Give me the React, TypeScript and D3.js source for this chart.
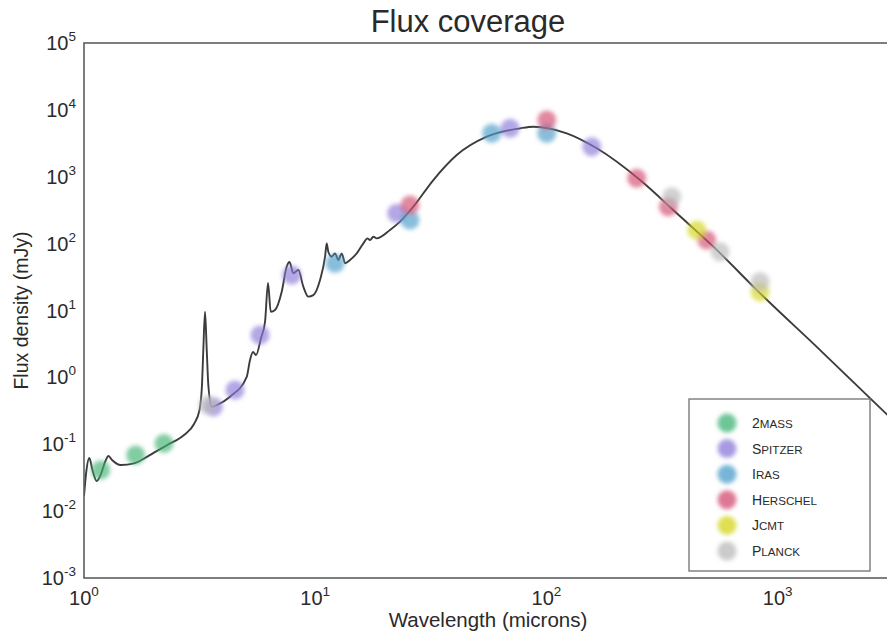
import React from 'react';
import * as d3 from 'd3';

// Model spectral energy distribution (wavelength in microns, flux density in mJy)
const modelWavelength = [
  1.0, 1.025, 1.054, 1.088, 1.135, 1.184, 1.233, 1.276, 1.322, 1.441, 1.646, 1.878,
  2.042, 2.293, 2.707, 2.991, 3.159, 3.238, 3.281, 3.337, 3.395, 3.449, 3.567, 3.75,
  4.281, 5.055, 5.224, 5.383, 5.546, 5.829, 6.066, 6.25, 6.421, 6.701, 7.163, 7.527,
  7.74, 8.04, 8.452, 8.882, 9.337, 9.813, 10.49, 11.03, 11.21, 11.39, 11.79, 12.18,
  12.59, 13.02, 13.46, 14.14, 15.12, 16.15, 16.81, 17.26, 17.84, 18.45, 21.06, 23.27,
  26.57, 32.42, 40.93, 55.19, 76.9, 87.8, 122.4, 165.1, 254.1, 366.1, 527.2, 839.3,
  1526, 3064,
];
const modelFlux = [
  0.0168, 0.0412, 0.0622, 0.0412, 0.0282, 0.0359, 0.0543, 0.0667, 0.0582, 0.049, 0.0519, 0.0652,
  0.0774, 0.0975, 0.1375, 0.201, 0.325, 0.769, 2.56, 9.59, 2.56, 0.769, 0.364, 0.386,
  0.514, 1.02, 1.82, 2.39, 2.16, 3.88, 6.73, 25.8, 9.59, 10.2, 19.1, 45.2,
  53.1, 36.0, 40.3, 22.7, 16.1, 17.0, 28.6, 63.7, 101, 75.7, 63.7, 71.6,
  56.9, 71.6, 50.8, 56.9, 71.6, 101, 120, 113, 127, 120, 160, 213,
  357, 893, 2113, 3972, 5300, 5600, 4463, 2663, 893, 284, 90, 18.1,
  2.56, 0.251,
];

// Photometry by survey
const surveyNames = ['2MASS', 'Spitzer', 'IRAS', 'Herschel', 'JCMT', 'Planck'];

const twoMassWavelength = [1.181, 1.673, 2.218];
const twoMassFlux = [0.0412, 0.069, 0.103];

const spitzerWavelength = [3.625, 4.499, 5.771, 7.91, 22.52, 69.6, 157];
const spitzerFlux = [0.364, 0.647, 4.3, 34.0, 284, 5300, 2814];

const irasWavelength = [12.18, 25.7, 58.0, 100.3];
const irasFlux = [50.8, 225, 4463, 4463];

const herschelWavelength = [25.7, 100.3, 245.8, 336.7, 493.6];
const herschelFlux = [378, 7060, 948, 357, 113];

const jcmtWavelength = [446.8, 839];
const jcmtFlux = [160, 19.1];

const planckWavelength = [3.439, 348.2, 563.6, 839];
const planckFlux = [0.386, 503, 75.7, 27.0];

const xTickExponents = [0, 1, 2, 3];
const yTickExponents = [-3, -2, -1, 0, 1, 2, 3, 4, 5];

const surveyColors = ['#3fb274', '#8b78d8', '#4a9cc9', '#d24b70', '#d4d418', '#b9b9b9'];

const W = 887;
const H = 635;
const plot = { left: 84, right: 888, top: 43, bottom: 578 };
const FONT = "'Liberation Sans', Arial, Helvetica, sans-serif";
const TEXT = '#2a2a2a';

export default function App() {
  const x = d3.scaleLog().domain([1, 3000]).range([plot.left, plot.right]);
  const y = d3.scaleLog().domain([1e-3, 1e5]).range([plot.bottom, plot.top]);

  const modelPoints: [number, number][] = modelWavelength.map((w, i) => [w, modelFlux[i]]);
  const line = d3
    .line<[number, number]>()
    .x((d) => x(d[0]))
    .y((d) => y(d[1]))
    .curve(d3.curveMonotoneX);

  const surveys = [
    { w: twoMassWavelength, f: twoMassFlux },
    { w: spitzerWavelength, f: spitzerFlux },
    { w: irasWavelength, f: irasFlux },
    { w: herschelWavelength, f: herschelFlux },
    { w: jcmtWavelength, f: jcmtFlux },
    { w: planckWavelength, f: planckFlux },
  ];

  const legend = { x: 689, y: 399, w: 181, h: 172, rowY0: 423, rowStep: 25.6 };

  return (
    <svg
      width={W}
      height={H}
      style={{ position: 'absolute', left: 0, top: 0, background: '#fff' }}
      fontFamily={FONT}
    >
      <defs>
        <filter id="soft" x="-20%" y="-20%" width="140%" height="140%">
          <feGaussianBlur stdDeviation="1.9" />
        </filter>
        <clipPath id="plotClip">
          <rect x={plot.left} y={plot.top} width={plot.right - plot.left} height={plot.bottom - plot.top} />
        </clipPath>
      </defs>
      <rect x={0} y={0} width={W} height={H} fill="#fff" />

      {/* Title */}
      <text x={468} y={32} textAnchor="middle" fontSize={31} fill={TEXT}>
        Flux coverage
      </text>

      {/* Model curve */}
      <g clipPath="url(#plotClip)">
        <path d={line(modelPoints) || ''} fill="none" stroke="#3c3c3c" strokeWidth={1.9} />
        {/* Photometric points */}
        <g filter="url(#soft)">
          {surveys.map((s, si) =>
            s.w.map((w, i) => (
              <circle
                key={`${si}-${i}`}
                cx={x(w)}
                cy={y(s.f[i])}
                r={9.5}
                fill={surveyColors[si]}
                fillOpacity={0.66}
              />
            ))
          )}
        </g>
      </g>

      {/* Axes frame */}
      <rect
        x={plot.left}
        y={plot.top}
        width={plot.right - plot.left}
        height={plot.bottom - plot.top}
        fill="none"
        stroke="#5e5e5e"
        strokeWidth={1.6}
      />

      {/* Y tick labels */}
      {yTickExponents.map((e) => (
        <text key={`y${e}`} x={76} y={y(Math.pow(10, e)) + 7} textAnchor="end" fontSize={20} fill={TEXT}>
          <tspan>10</tspan>
          <tspan dy={-9} fontSize={13.5}>{String(e)}</tspan>
        </text>
      ))}

      {/* X tick labels */}
      {xTickExponents.map((e) => (
        <text key={`x${e}`} x={x(Math.pow(10, e))} y={605} textAnchor="middle" fontSize={20} fill={TEXT}>
          <tspan>10</tspan>
          <tspan dy={-9} fontSize={13.5}>{String(e)}</tspan>
        </text>
      ))}

      {/* Axis labels */}
      <text x={488} y={627} textAnchor="middle" fontSize={20.5} fill={TEXT}>
        Wavelength (microns)
      </text>
      <text
        transform={`translate(28, ${(plot.top + plot.bottom) / 2}) rotate(-90)`}
        textAnchor="middle"
        fontSize={19.5}
        fill={TEXT}
      >
        Flux density (mJy)
      </text>

      {/* Legend */}
      <rect x={legend.x} y={legend.y} width={legend.w} height={legend.h} fill="#fff" stroke="#7a7a7a" strokeWidth={1.4} />
      <g filter="url(#soft)">
        {surveyNames.map((name, i) => (
          <circle
            key={`lc${name}`}
            cx={727}
            cy={legend.rowY0 + i * legend.rowStep}
            r={9.5}
            fill={surveyColors[i]}
            fillOpacity={0.75}
          />
        ))}
      </g>
      {surveyNames.map((name, i) => (
        <text key={`lt${name}`} x={752} y={legend.rowY0 + i * legend.rowStep + 5} fontSize={14} fill={TEXT}>
          <tspan>{name.charAt(0)}</tspan>
          <tspan fontSize={11.6}>{name.slice(1).toUpperCase()}</tspan>
        </text>
      ))}
    </svg>
  );
}
